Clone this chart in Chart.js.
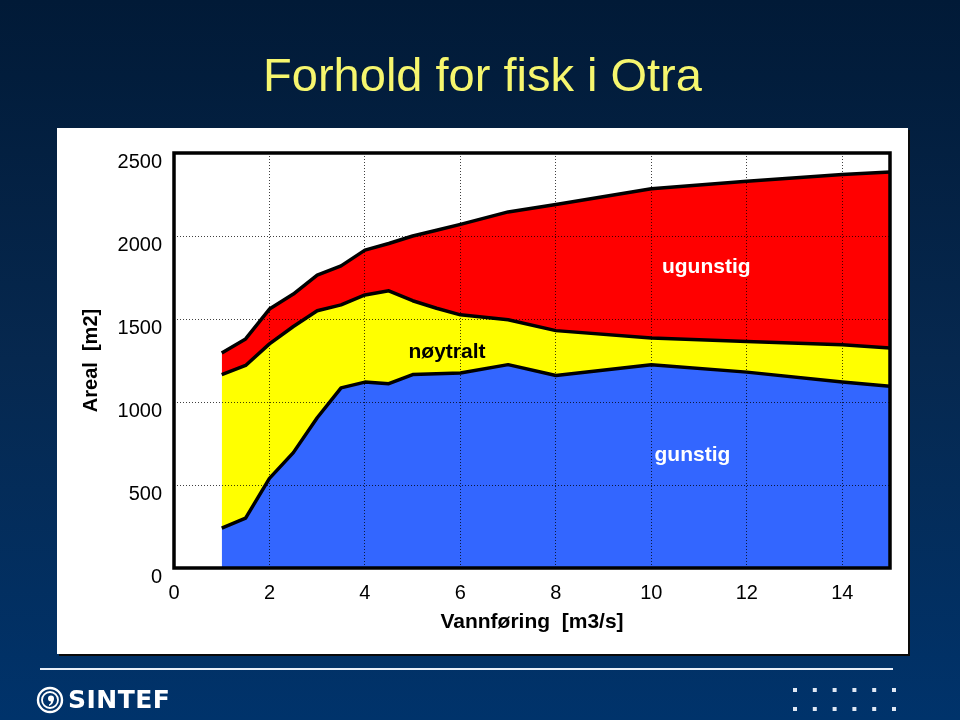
<!DOCTYPE html>
<html>
<head>
<meta charset="utf-8">
<script src="https://cdn.jsdelivr.net/npm/chart.js@4.4.1/dist/chart.umd.min.js"></script>
<style>
html,body{margin:0;padding:0;background:#00193a;}
#wrap{width:960px;height:720px;position:relative;}
canvas{display:block;}
</style>
</head>
<body>
<div id="wrap"><canvas id="c" width="960" height="720"></canvas></div>
<script>
// ---- data ----
const flow      = [1, 1.5, 2, 2.5, 3, 3.5, 4, 4.5, 5, 5.5, 6, 7, 8, 10, 12, 14, 15];
const gunstig   = [240, 300, 540, 695, 905, 1085, 1120, 1110, 1165, 1170, 1175, 1225, 1160, 1225, 1180, 1120, 1095];
const noytralt  = [925, 920, 810, 760, 645, 500, 525, 560, 445, 395, 350, 270, 270, 160, 185, 225, 230];
const ugunstig  = [130, 160, 210, 195, 215, 235, 270, 285, 390, 470, 545, 650, 760, 900, 965, 1025, 1060];
const xTicks    = [0, 2, 4, 6, 8, 10, 12, 14];
const yTicks    = [0, 500, 1000, 1500, 2000, 2500];
const seriesNames = ['gunstig', 'nøytralt', 'ugunstig'];
const labelX    = [10.86, 5.72, 11.15];
const labelY    = [642, 1265, 1777];

const FONT = "'Liberation Sans', Arial, Helvetica, sans-serif";

const pts = (vals) => flow.map((x, i) => ({x: x, y: vals[i]}));

const backgroundPlugin = {
  id: 'slideBackground',
  beforeDraw(chart) {
    const ctx = chart.ctx;
    ctx.save();
    const g = ctx.createLinearGradient(0, 0, 0, 720);
    g.addColorStop(0, '#011a37');
    g.addColorStop(0.5, '#06284f');
    g.addColorStop(1, '#00336b');
    ctx.fillStyle = g;
    ctx.fillRect(0, 0, 960, 720);
    // white panel with shadow
    ctx.fillStyle = '#0a0a0a';
    ctx.fillRect(59, 130, 851, 526);
    ctx.fillStyle = '#ffffff';
    ctx.fillRect(57, 128, 851, 526);
    // footer line
    ctx.strokeStyle = '#e8eef8';
    ctx.lineWidth = 2;
    ctx.beginPath();
    ctx.moveTo(40, 669);
    ctx.lineTo(893, 669);
    ctx.stroke();
    // dots
    ctx.fillStyle = '#dfe8f5';
    for (let r = 0; r < 2; r++) {
      for (let c = 0; c < 6; c++) {
        ctx.fillRect(793 + c * 19.8, 688 + r * 19, 4, 4);
      }
    }
    // SINTEF logo
    ctx.strokeStyle = '#ffffff';
    ctx.fillStyle = '#ffffff';
    ctx.lineWidth = 2.4;
    ctx.beginPath(); ctx.arc(50, 700, 12, 0, Math.PI * 2); ctx.stroke();
    ctx.lineWidth = 1.8;
    ctx.beginPath(); ctx.arc(50, 700, 8, 0, Math.PI * 2); ctx.stroke();
    ctx.beginPath(); ctx.arc(51, 698.5, 3, 0, Math.PI * 2); ctx.fill();
    ctx.beginPath();
    ctx.moveTo(53.5, 699); ctx.quadraticCurveTo(54, 704, 49, 706); ctx.lineTo(49, 704.5);
    ctx.quadraticCurveTo(51.5, 703, 51, 700); ctx.closePath(); ctx.fill();
    ctx.font = "bold 25px 'DejaVu Sans', " + FONT;
    ctx.textBaseline = 'middle';
    ctx.textAlign = 'left';
    try { ctx.letterSpacing = '0.5px'; } catch (e) {}
    ctx.fillText('SINTEF', 68, 701);
    ctx.restore();
  }
};

const overlayPlugin = {
  id: 'overlay',
  afterDraw(chart) {
    const ctx = chart.ctx;
    const a = chart.chartArea;
    const xs = chart.scales.x, ys = chart.scales.y;
    ctx.save();
    // area labels
    ctx.font = 'bold 21px ' + FONT;
    ctx.textAlign = 'center';
    ctx.textBaseline = 'alphabetic';
    const colors = ['#ffffff', '#000000', '#ffffff'];
    for (let i = 0; i < seriesNames.length; i++) {
      ctx.fillStyle = colors[i];
      ctx.fillText(seriesNames[i], xs.getPixelForValue(labelX[i]), ys.getPixelForValue(labelY[i]));
    }
    // plot frame
    ctx.strokeStyle = '#000000';
    ctx.lineWidth = 3.5;
    ctx.strokeRect(a.left, a.top, a.right - a.left, a.bottom - a.top);
    ctx.restore();
  }
};

const common = {borderColor: '#000000', borderWidth: 3.5, pointRadius: 0, tension: 0, borderJoinStyle: 'round'};

new Chart(document.getElementById('c'), {
  type: 'line',
  data: {
    datasets: [
      Object.assign({label: seriesNames[0], data: pts(gunstig), backgroundColor: '#3366ff', fill: 'origin'}, common),
      Object.assign({label: seriesNames[1], data: pts(noytralt), backgroundColor: '#ffff00', fill: '-1'}, common),
      Object.assign({label: seriesNames[2], data: pts(ugunstig), backgroundColor: '#ff0000', fill: '-1'}, common)
    ]
  },
  options: {
    responsive: false,
    animation: false,
    devicePixelRatio: 1,
    layout: {padding: {left: 75, right: 70, top: 0, bottom: 79}},
    plugins: {
      legend: {display: false},
      tooltip: {enabled: false},
      title: {
        display: true,
        text: 'Forhold for fisk i Otra',
        color: '#f6f66e',
        font: {family: FONT, size: 47, weight: 'normal', lineHeight: 1.2},
        padding: {top: 50, bottom: 46.6}
      }
    },
    scales: {
      x: {
        type: 'linear',
        min: 0, max: 15,
        z: 1,
        afterBuildTicks: (s) => { s.ticks = xTicks.map(v => ({value: v})); },
        afterFit: (s) => { s.height = 73; },
        ticks: {color: '#000', font: {family: FONT, size: 20}, padding: 13, maxRotation: 0, autoSkip: false,
                callback: (v) => String(v)},
        grid: {color: 'rgba(0,0,0,0.75)', lineWidth: 1, drawTicks: false, z: 1},
        border: {display: false, dash: [1, 2]},
        title: {display: true, text: 'Vannføring  [m3/s]', color: '#000', font: {family: FONT, size: 21, weight: 'bold'}, padding: {top: 4, bottom: 6}}
      },
      y: {
        type: 'linear',
        stacked: true,
        min: 0, max: 2500,
        z: 1,
        afterBuildTicks: (s) => { s.ticks = yTicks.map(v => ({value: v})); },
        afterFit: (s) => { s.width = 174 - 75; },
        ticks: {color: '#000', font: {family: FONT, size: 20}, padding: 12, labelOffset: 9,
                callback: (v) => String(v)},
        grid: {color: 'rgba(0,0,0,0.75)', lineWidth: 1, drawTicks: false, z: 1},
        border: {display: false, dash: [1, 2]},
        title: {display: true, text: 'Areal  [m2]', color: '#000', font: {family: FONT, size: 20, weight: 'bold'}, padding: {top: 4, bottom: 4}}
      }
    }
  },
  plugins: [backgroundPlugin, overlayPlugin]
});
</script>
</body>
</html>
